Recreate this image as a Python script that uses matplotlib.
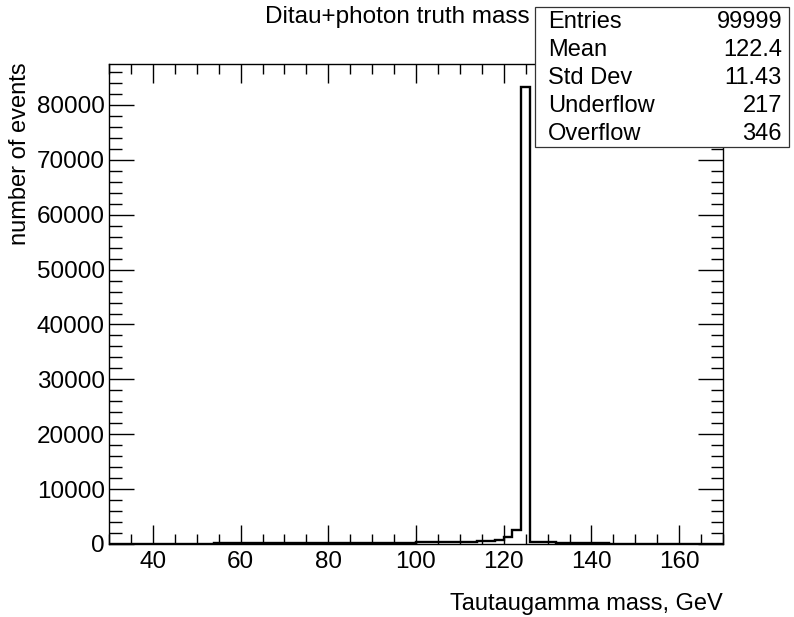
import matplotlib
matplotlib.use("Agg")
import matplotlib.pyplot as plt
import numpy as np
from matplotlib.patches import Rectangle
from matplotlib.ticker import MultipleLocator

plt.rcParams['font.family'] = ['Liberation Sans', 'DejaVu Sans']

# histogram: 70 bins of 2 GeV from 30 to 170
bin_lo, bin_hi, bin_w = 30, 170, 2
counts = (
    [0] * 12                                    # 30 - 54
    + [120, 130, 140, 130, 150, 140, 150, 160, 150, 160, 170, 160,
       170, 180, 170, 180, 190, 180, 190, 200, 190, 200, 210]   # 54 - 100
    + [300, 310, 320, 330, 340]                 # 100 - 110
    + [360, 420, 470, 540, 760, 1340, 2560]     # 110 - 124
    + [83300]                                   # 124 - 126 peak
    + [330, 310, 290]                           # 126 - 132
    + [150, 140, 130, 120, 110, 100, 90]        # 132 - 146
    + [0] * 12                                  # 146 - 170
)
edges = np.arange(bin_lo, bin_hi + bin_w, bin_w)

stat_names = ["Entries", "Mean", "Std Dev", "Underflow", "Overflow"]
stat_values = ["99999", "122.4", "11.43", "217", "346"]

fig = plt.figure(figsize=(7.94, 6.17), dpi=100)
ax = fig.add_axes([109 / 794, 1 - 544 / 617, 614 / 794, 480 / 617])

ax.stairs(counts, edges, baseline=0, color="black", lw=1.7, fill=False)
ax.set_xlim(bin_lo, bin_hi)
ax.set_ylim(0, max(counts) * 1.05)

ax.xaxis.set_major_locator(MultipleLocator(20))
ax.xaxis.set_minor_locator(MultipleLocator(5))
ax.yaxis.set_major_locator(MultipleLocator(10000))
ax.yaxis.set_minor_locator(MultipleLocator(2000))
ax.ticklabel_format(axis="y", style="plain", useOffset=False)
ax.tick_params(which="both", direction="in", top=True, right=True,
               labelsize=17.5, width=1.0, color="black")
ax.tick_params(axis="x", which="major", length=14, pad=5)
ax.tick_params(axis="x", which="minor", length=7)
ax.tick_params(axis="y", which="major", length=18, pad=3)
ax.tick_params(axis="y", which="minor", length=9)
for s in ax.spines.values():
    s.set_linewidth(1.0)

fig.text(397 / 794, 1 - 17 / 617, "Ditau+photon truth mass",
         ha="center", va="center", fontsize=17.5)
fig.text(723 / 794, 1 - 604 / 617, "Tautaugamma mass, GeV",
         ha="right", va="center", fontsize=17)
fig.text(20 / 794, 1 - 62 / 617, "number of events", rotation=90,
         ha="center", va="top", fontsize=17)

# stats box
box = Rectangle((535 / 794, 1 - 147 / 617), 254 / 794, 140 / 617,
                transform=fig.transFigure, facecolor="white",
                edgecolor="#333333", lw=0.9, zorder=5)
fig.patches.append(box)
for i, (n, v) in enumerate(zip(stat_names, stat_values)):
    y = 1 - (22 + 28 * i) / 617
    fig.text(548 / 794, y, n, ha="left", va="center", fontsize=17, zorder=6)
    fig.text(782 / 794, y, v, ha="right", va="center", fontsize=17, zorder=6)

fig.savefig("out.png", dpi=100)
